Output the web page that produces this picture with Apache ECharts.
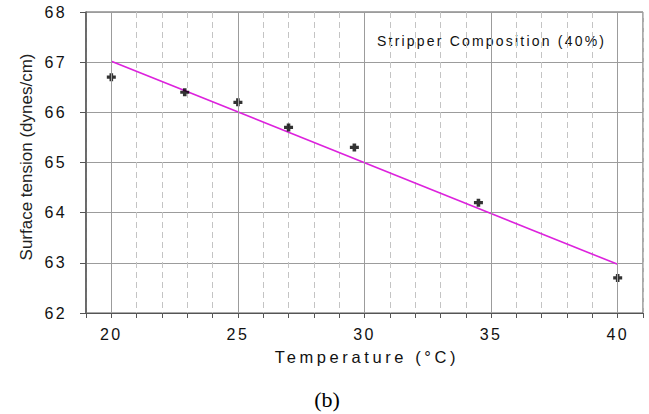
<!DOCTYPE html>
<html>
<head>
<meta charset="utf-8">
<script src="https://cdn.jsdelivr.net/npm/echarts@6/dist/echarts.min.js"></script>
<style>
  html, body { margin: 0; padding: 0; background: #fff; }
  #chart { width: 649px; height: 414px; }
  /* spaced-out lettering for tick labels and axis titles */
  #chart text[style*="16px"] { letter-spacing: 2.4px; }
  #chart text[style*="16.5px"] { letter-spacing: 3.6px; }
  #chart text[style*="14px"] { letter-spacing: 2.2px; }
</style>
</head>
<body>
<div id="chart"></div>
<script>
// Measured surface tension vs temperature
const temperature = [20, 22.9, 25, 27, 29.6, 34.5, 40];
const surfaceTension = [66.7, 66.4, 66.2, 65.7, 65.3, 64.2, 62.7];

// Linear trend line end points
const trendX = [20, 40];
const trendY = [67.02, 62.97];

// Axis ticks
const xMajorTicks = [20, 25, 30, 35, 40];
const yTicks = [62, 63, 64, 65, 66, 67, 68];

const axisColor = '#555';
const gridColor = '#9c9c9c';

const chart = echarts.init(document.getElementById('chart'), null, { renderer: 'svg' });

chart.setOption({
  animation: false,
  backgroundColor: '#fff',
  grid: {
    left: 86, right: 6, top: 12, bottom: 101,
    show: true, borderColor: axisColor, borderWidth: 1
  },
  xAxis: {
    type: 'value',
    min: 19, max: 41, interval: 1,
    axisLine: { show: true, onZero: false, lineStyle: { color: axisColor, width: 1 } },
    axisTick: { show: true, length: 5, lineStyle: { color: axisColor } },
    axisLabel: {
      margin: 13,
      color: '#111',
      fontFamily: 'Liberation Sans',
      fontSize: 16,
      formatter: v => (xMajorTicks.indexOf(v) >= 0 ? String(v) : '')
    },
    splitLine: { show: true, lineStyle: { color: '#c4c4c4', type: [6, 4], width: 1 } }
  },
  yAxis: {
    type: 'value',
    min: yTicks[0], max: yTicks[yTicks.length - 1], interval: 1,
    axisLine: { show: true, lineStyle: { color: axisColor, width: 1.5 } },
    axisTick: { show: true, length: 6, lineStyle: { color: axisColor } },
    axisLabel: {
      margin: 19,
      color: '#111',
      fontFamily: 'Liberation Sans',
      fontSize: 16
    },
    splitLine: { show: true, lineStyle: { color: gridColor, width: 1 } }
  },
  series: [
    {
      // solid major vertical grid lines
      type: 'line',
      data: [],
      z: 1,
      markLine: {
        silent: true,
        symbol: ['none', 'none'],
        label: { show: false },
        lineStyle: { color: gridColor, type: 'solid', width: 1 },
        data: xMajorTicks.map(v => ({ xAxis: v }))
      }
    },
    {
      type: 'line',
      data: trendX.map((x, i) => [x, trendY[i]]),
      showSymbol: false,
      symbol: 'none',
      z: 3,
      lineStyle: { color: '#dd22dd', width: 1.6 }
    },
    {
      type: 'scatter',
      data: temperature.map((x, i) => [x, surfaceTension[i]]),
      symbol: 'path://M3,0H7V3H10V7H7V10H3V7H0V3H3Z',
      symbolSize: [9, 8],
      z: 4,
      itemStyle: { color: '#000' }
    }
  ],
  graphic: [
    {
      type: 'text',
      left: 377, top: 34,
      style: {
        text: 'Stripper Composition (40%)',
        font: '14px "Liberation Sans"',
        fill: '#111'
      }
    },
    {
      type: 'text',
      x: 26, y: 157,
      rotation: Math.PI / 2,
      style: {
        text: 'Surface tension (dynes/cm)',
        font: '17px "Liberation Sans"',
        fill: '#222',
        align: 'center',
        verticalAlign: 'middle'
      }
    },
    {
      type: 'text',
      x: 367, y: 357,
      style: {
        text: 'Temperature (°C)',
        font: '16.5px "Liberation Sans"',
        fill: '#111',
        align: 'center',
        verticalAlign: 'middle'
      }
    },
    {
      type: 'text',
      x: 327, y: 399,
      style: {
        text: '(b)',
        font: '22px "Liberation Serif"',
        fill: '#000',
        align: 'center',
        verticalAlign: 'middle'
      }
    }
  ]
});
</script>
</body>
</html>
